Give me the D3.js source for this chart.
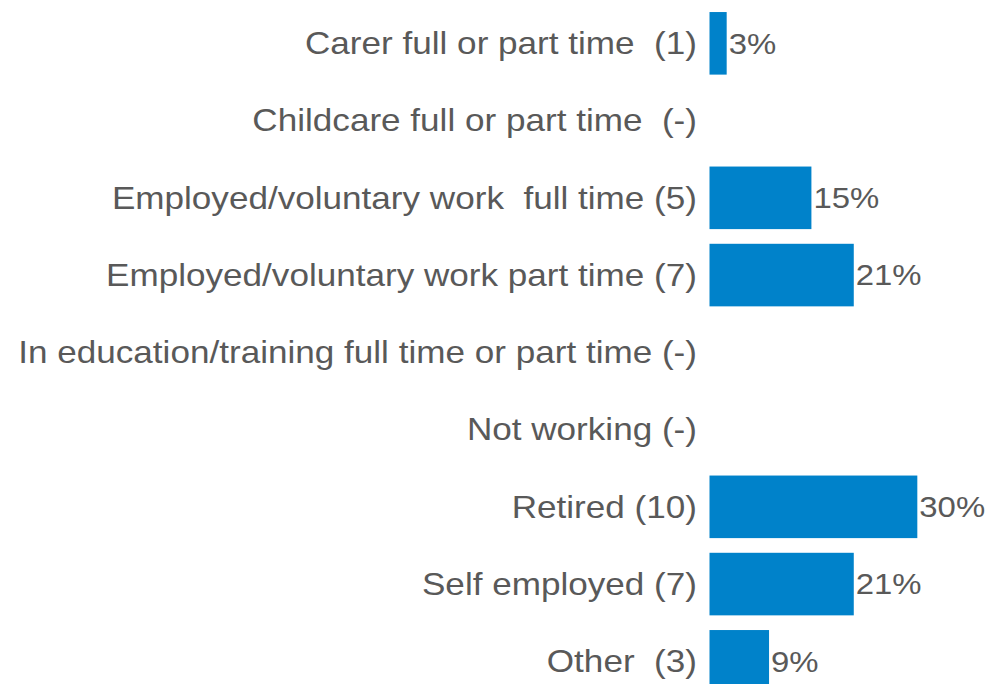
<!DOCTYPE html>
<html>
<head>
<meta charset="utf-8">
<script src="https://cdn.jsdelivr.net/npm/d3@7"></script>
<style>
  body { margin: 0; background: #fff; }
  text { font-family: "Liberation Sans", Arial, sans-serif; fill: #595959; }
</style>
</head>
<body>
<div id="chart"></div>
<script>
// Categories and respondent counts (33 respondents in total)
const categories = [
  "Carer full or part time  (1)",
  "Childcare full or part time  (-)",
  "Employed/voluntary work  full time (5)",
  "Employed/voluntary work part time (7)",
  "In education/training full time or part time (-)",
  "Not working (-)",
  "Retired (10)",
  "Self employed (7)",
  "Other  (3)"
];
const counts = [1, 0, 5, 7, 0, 0, 10, 7, 3];
const total = 33;

let width = 991, height = 684;
let labelX = 697, barGap = 4;
// the source picture is a little wider than tall, so text is stretched
let stretch = 1.097;

let svg = d3.select("#chart")
  .append("svg")
  .attr("width", width)
  .attr("height", height);

let data = categories.map((c, i) => ({ name: c, count: counts[i], pct: counts[i] / total * 100 }));

// Scales
let x = d3.scaleLinear().domain([0, 30.3]).range([705.5, 917.3]);

let y = d3.scaleBand()
  .domain(categories)
  .range([4.7, 4.7 + 9 * 77.25])
  .paddingInner(0.19)
  .paddingOuter(0.095);

// Category labels
svg.selectAll(".cat-label")
  .data(data)
  .enter()
  .append("text")
  .attr("class", "cat-label")
  .attr("transform", d => "translate(" + labelX + "," + (y(d.name) + y.bandwidth() / 2) + ") scale(" + stretch + ",1)")
  .attr("dy", "0.34em")
  .attr("text-anchor", "end")
  .style("font-size", "32px")
  .style("white-space", "pre")
  .text(d => d.name);

// Bars (only where there is a value)
let withValue = data.filter(d => d.count > 0);

svg.selectAll(".bar")
  .data(withValue)
  .enter()
  .append("rect")
  .attr("class", "bar")
  .attr("x", x(0) + barGap)
  .attr("y", d => y(d.name))
  .attr("width", d => x(d.pct) - x(0) - barGap)
  .attr("height", y.bandwidth())
  .style("fill", "#0082ca");

// Value labels
svg.selectAll(".val-label")
  .data(withValue)
  .enter()
  .append("text")
  .attr("class", "val-label")
  .attr("transform", d => "translate(" + (x(d.pct) + 2) + "," + (y(d.name) + y.bandwidth() / 2) + ") scale(" + stretch + ",1)")
  .attr("dy", "0.34em")
  .style("font-size", "30px")
  .text(d => Math.round(d.pct) + "%");
</script>
</body>
</html>
